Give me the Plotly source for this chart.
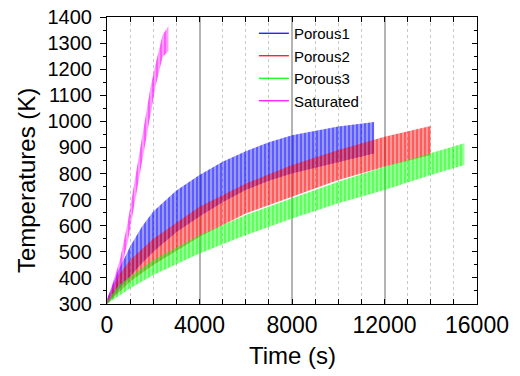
import plotly.graph_objects as go

# ---- data (envelopes of the oscillating temperature bands) ----
t_p1 = [0, 500, 1000, 1500, 2000, 3000, 4000, 5000, 6000, 7000, 8000, 10000, 11550]
p1_low = [300, 355, 405, 455, 500, 575, 635, 690, 737, 772, 800, 845, 877]
p1_high = [320, 430, 520, 595, 655, 735, 794, 845, 885, 920, 947, 980, 998]

t_p2 = [0, 500, 1000, 2000, 4000, 6000, 8000, 10000, 12000, 14000]
p2_low = [300, 345, 386, 449, 558, 647, 711, 775, 826, 871]
p2_high = [315, 410, 469, 550, 673, 762, 833, 890, 941, 982]

t_p3 = [0, 500, 1000, 2000, 4000, 6000, 8000, 10000, 12000, 14000, 15450]
p3_low = [300, 330, 360, 411, 494, 564, 628, 686, 737, 794, 833]
p3_high = [310, 370, 405, 469, 564, 641, 705, 769, 826, 877, 916]

t_sat = [0, 560, 890, 1130, 1390, 1630, 1870, 2100, 2400, 2650]
sat_low = [300, 415, 535, 655, 780, 905, 1035, 1135, 1245, 1270]
sat_high = [310, 470, 610, 740, 870, 1000, 1125, 1220, 1330, 1365]

names = ["Porous1", "Porous2", "Porous3", "Saturated"]
colors = ["#0000ff", "#ff0000", "#00ff00", "#ff00ff"]
light = ["rgba(0,0,255,0.40)", "rgba(255,0,0,0.40)", "rgba(0,255,0,0.40)", "rgba(255,0,255,0.40)"]

series = [(t_p1, p1_low, p1_high), (t_p2, p2_low, p2_high),
          (t_p3, p3_low, p3_high), (t_sat, sat_low, sat_high)]

fig = go.Figure()
for (t, lo, hi), name, c, lc in zip(series, names, colors, light):
    fig.add_trace(go.Scatter(x=t, y=lo, mode="lines", line=dict(width=0, color=c),
                             showlegend=False, hoverinfo="skip"))
    fig.add_trace(go.Scatter(x=t, y=hi, mode="lines", line=dict(width=0, color=c),
                             fill="tonexty", fillcolor=lc,
                             fillpattern=dict(shape="|", size=4, solidity=0.4,
                                              fgcolor=c, bgcolor=lc),
                             showlegend=False, hoverinfo="skip"))
# legend entries (line samples)
for name, c in zip(names, colors):
    fig.add_trace(go.Scatter(x=[None], y=[None], mode="lines", name=name,
                             line=dict(color=c, width=1.2)))
# helper trace for right-side inner ticks
fig.add_trace(go.Scatter(x=[None], y=[None], yaxis="y2", showlegend=False, hoverinfo="skip"))

font_family = "Arial, Liberation Sans, sans-serif"

fig.update_layout(
    width=520, height=376,
    margin=dict(l=107, r=43, t=17, b=72, autoexpand=False),
    paper_bgcolor="white", plot_bgcolor="white",
    font=dict(family=font_family, color="black"),
    legend=dict(x=0.397, y=1.0, xanchor="left", yanchor="top", traceorder="normal",
                bgcolor="rgba(0,0,0,0)", font=dict(size=15, family=font_family),
                tracegroupgap=0),
    xaxis=dict(range=[0, 16000], dtick=4000, tick0=0, ticks="inside", ticklen=5,
               tickformat="d", ticklabeloverflow="allow",
               tickcolor="black", showline=True, linecolor="black", linewidth=1,
               mirror="allticks", showgrid=True, gridcolor="#b4b4b4", gridwidth=1.6,
               zeroline=False, tickfont=dict(size=23),
               minor=dict(dtick=1000, ticks="inside", ticklen=3, tickcolor="black",
                          showgrid=True, griddash="dot", gridcolor="#c8c8c8", gridwidth=1)),
    yaxis=dict(range=[300, 1400], dtick=100, tick0=300, ticks="outside", ticklen=6,
               tickformat="d", ticklabeloverflow="allow",
               tickcolor="black", showline=True, linecolor="black", linewidth=1,
               mirror=True, showgrid=False, zeroline=False, tickfont=dict(size=20),
               ticklabelstandoff=4,
               minor=dict(dtick=50, ticks="outside", ticklen=3, tickcolor="black")),
    yaxis2=dict(range=[300, 1400], dtick=100, tick0=300, overlaying="y", side="right",
                ticks="inside", ticklen=5, tickcolor="black", showticklabels=False,
                showline=False, showgrid=False, zeroline=False,
                minor=dict(dtick=50, ticks="inside", ticklen=3, tickcolor="black")),
    annotations=[
        dict(text="Time (s)", x=0.5, y=-0.178, xref="paper", yref="paper",
             xanchor="center", yanchor="middle", showarrow=False,
             font=dict(size=24, family=font_family)),
        dict(text="Temperatures (K)", x=-0.216, y=0.4286, xref="paper", yref="paper",
             xanchor="center", yanchor="middle", textangle=-90, showarrow=False,
             font=dict(size=24, family=font_family)),
    ],
)

fig.write_html("out.html", config={"displayModeBar": False},
               post_script="document.body.style.margin='0';document.body.style.padding='0';")
